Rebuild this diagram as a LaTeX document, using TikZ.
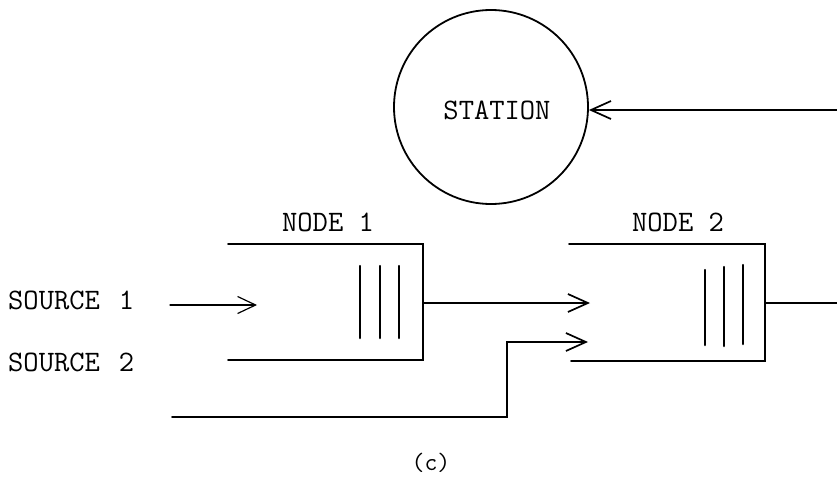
\documentclass[tikz,border=0pt]{standalone}
\usepackage{fontspec}
\usetikzlibrary{arrows.meta}
\begin{document}
\begin{tikzpicture}[x=1pt,y=-1pt,line cap=round,line join=miter,
  ln/.style={line width=1.7pt},
  arr/.style={ln,-{Straight Barb[length=20pt,width=18pt,line width=1.7pt]}},
  qbar/.style={line width=2.5pt},
  lbl/.style={font=\ttfamily\fontsize{29.7}{30}\selectfont,inner sep=0pt}]
\useasboundingbox (0,0) rectangle (837,477);
% station
\node[draw,circle,line width=1.8pt,minimum size=194pt,inner sep=0pt] (station) at (491,107) {};
\node[lbl] (stlab) at (497,110) {STATION};
\coordinate (sin) at (837,110);
\draw[arr] (sin) -- (station.east |- sin);
% labels
\node[lbl] (n1lab) at (328,222) {NODE 1};
\node[lbl] (n2lab) at (678,222) {NODE 2};
\node[lbl,anchor=west] (s1lab) at (8,300) {SOURCE\hspace{19pt}1};
\node[lbl,anchor=west] (s2lab) at (8,362) {SOURCE\hspace{19pt}2};
\node[lbl,font=\ttfamily\fontsize{25}{25}\selectfont] (cap) at (431,463) {(c)};
% node 1 queue
\coordinate (n1tl) at (228,244);
\coordinate (n1tr) at (423,244);
\coordinate (n1br) at (423,360);
\coordinate (n1bl) at (228,360);
\draw[ln] (n1tl) -- (n1tr) -- (n1br) -- (n1bl);
\draw[qbar] (360,266) -- (360,338);
\draw[qbar] (380,266) -- (380,338);
\draw[qbar] (399,266) -- (399,338);
% node 2 queue
\coordinate (n2tl) at (569,244);
\coordinate (n2tr) at (765,244);
\coordinate (n2br) at (765,361);
\coordinate (n2bl) at (571,361);
\draw[ln] (n2tl) -- (n2tr) -- (n2br) -- (n2bl);
\draw[qbar] (705,270) -- (705,345);
\draw[qbar] (724,267) -- (724,346);
\draw[qbar] (743,265) -- (743,344);
% connectors
\coordinate (s1a) at (170,305);
\coordinate (s1b) at (257,305);
\draw[ln,-{Straight Barb[length=18pt,width=17pt,line width=1.2pt]},line width=1.2pt] (s1a) -- (s1b);
\coordinate (n1out) at (423,303);
\coordinate (n2in1) at (590,303);
\draw[arr] (n1out) -- (n2in1);
\coordinate (s2a) at (172,417);
\coordinate (s2c) at (507,417);
\coordinate (s2d) at (507,342);
\coordinate (n2in2) at (588,342);
\draw[arr] (s2a) -- (s2c) -- (s2d) -- (n2in2);
\coordinate (n2out) at (765,303);
\coordinate (sout) at (837,303);
\draw[ln] (n2out) -- (sout);
\end{tikzpicture}
\end{document}
